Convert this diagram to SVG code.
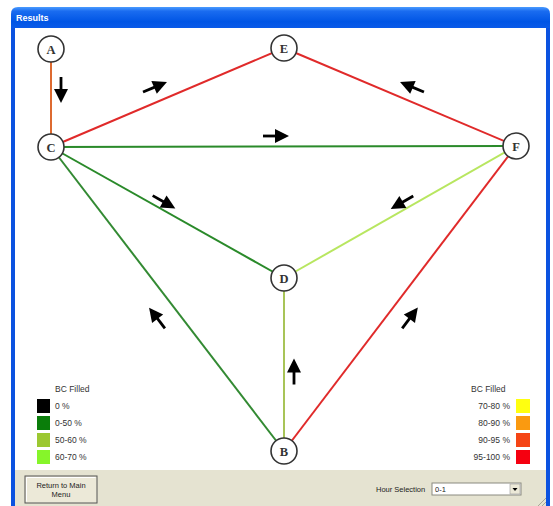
<svg xmlns="http://www.w3.org/2000/svg" width="553" height="506" viewBox="0 0 553 506">
  <defs>
    <linearGradient id="tbar" x1="0" y1="0" x2="0" y2="1">
      <stop offset="0" stop-color="#4a9bff"/>
      <stop offset="0.2" stop-color="#1a6cf0"/>
      <stop offset="0.7" stop-color="#0055e5"/>
      <stop offset="1" stop-color="#0a5ae8"/>
    </linearGradient>
    <g id="arr">
      <line x1="-13" y1="0" x2="1" y2="0" stroke="#000" stroke-width="2.8"/>
      <polygon points="13,0 -1,-7 -1,7" fill="#000"/>
    </g>
    <style>
      .edge { fill: none; stroke-width: 2; }
      .node circle { fill: #fff; stroke: #333; stroke-width: 1.6; }
      .node text { font-family: "Liberation Serif", serif; font-weight: bold; font-size: 12.5px; fill: #333; text-anchor: middle; }
      .lg { font-family: "Liberation Sans", Arial, sans-serif; font-size: 8.5px; fill: #333; }
      .ui { font-family: "Liberation Sans", Arial, sans-serif; font-size: 7.5px; fill: #222; }
    </style>
  </defs>

  <!-- window frame -->
  <rect x="0" y="0" width="553" height="506" fill="#fff"/>
  <path d="M11,28 V14 Q11,7 18,7 H543 Q550,7 550,14 V28 Z" fill="url(#tbar)"/>
  <text x="16" y="21" font-family="Liberation Sans, Arial, sans-serif" font-size="9" font-weight="bold" fill="#fff">Results</text>
  <rect x="11" y="28" width="4" height="478" fill="#0b52e0"/>
  <rect x="546" y="28" width="4" height="478" fill="#0b52e0"/>
  <rect x="15" y="28" width="531" height="442" fill="#fff"/>
  <rect x="15" y="470" width="531" height="36" fill="#e5e3d1"/>

  <!-- connectors -->
  <g id="connectors">
    <line class="edge" x1="51" y1="49" x2="51" y2="147" stroke="#dd6a30"/>
    <line class="edge" x1="51" y1="147" x2="284" y2="48" stroke="#e02a2a"/>
    <line class="edge" x1="284" y1="48" x2="516" y2="146" stroke="#e02a2a"/>
    <line class="edge" x1="51" y1="147" x2="516" y2="146" stroke="#2a8a2a"/>
    <line class="edge" x1="51" y1="147" x2="284" y2="278" stroke="#2a8a2a"/>
    <line class="edge" x1="516" y1="146" x2="284" y2="278" stroke="#b8e660"/>
    <line class="edge" x1="284" y1="278" x2="284" y2="451" stroke="#a8c458"/>
    <line class="edge" x1="51" y1="147" x2="284" y2="451" stroke="#338a33"/>
    <line class="edge" x1="516" y1="146" x2="284" y2="451" stroke="#e02a2a"/>

    <use href="#arr" transform="translate(61,90) rotate(90)"/>
    <use href="#arr" transform="translate(155,87) rotate(-23)"/>
    <use href="#arr" transform="translate(412,87) rotate(-157)"/>
    <use href="#arr" transform="translate(276,136) rotate(0)"/>
    <use href="#arr" transform="translate(164,202) rotate(29.5)"/>
    <use href="#arr" transform="translate(402,202.5) rotate(150)"/>
    <use href="#arr" transform="translate(294,371.5) rotate(-90)"/>
    <use href="#arr" transform="translate(157,318) rotate(-127.5)"/>
    <use href="#arr" transform="translate(410,318) rotate(-53)"/>
  </g>

  <!-- nodes -->
  <g id="node-A" class="node"><circle cx="51" cy="49" r="13"/><text x="51" y="53.5">A</text></g>
  <g id="node-E" class="node"><circle cx="284" cy="48" r="13"/><text x="284" y="52.5">E</text></g>
  <g id="node-C" class="node"><circle cx="51" cy="147" r="13"/><text x="51" y="151.5">C</text></g>
  <g id="node-F" class="node"><circle cx="516" cy="146" r="13"/><text x="516" y="150.5">F</text></g>
  <g id="node-D" class="node"><circle cx="284" cy="278" r="13"/><text x="284" y="282.5">D</text></g>
  <g id="node-B" class="node"><circle cx="284" cy="451" r="13"/><text x="284" y="455.5">B</text></g>

  <!-- legend left -->
  <g id="legend-left">
    <text class="lg" x="55" y="392">BC Filled</text>
    <rect x="37" y="399" width="13" height="14" fill="#000"/>
    <rect x="37" y="416" width="13" height="14" fill="#0a7d0a"/>
    <rect x="37" y="433" width="13" height="14" fill="#9cc832"/>
    <rect x="37" y="450" width="13" height="14" fill="#86f52a"/>
    <text class="lg" x="55" y="409">0 %</text>
    <text class="lg" x="55" y="426">0-50 %</text>
    <text class="lg" x="55" y="443">50-60 %</text>
    <text class="lg" x="55" y="460">60-70 %</text>
  </g>

  <!-- legend right -->
  <g id="legend-right">
    <text class="lg" x="471" y="392">BC Filled</text>
    <rect x="516" y="399" width="14" height="14" fill="#ffff10"/>
    <rect x="516" y="416" width="14" height="14" fill="#fa9a10"/>
    <rect x="516" y="433" width="14" height="14" fill="#f54515"/>
    <rect x="516" y="450" width="14" height="14" fill="#f50010"/>
    <text class="lg" x="510" y="409" text-anchor="end">70-80 %</text>
    <text class="lg" x="510" y="426" text-anchor="end">80-90 %</text>
    <text class="lg" x="510" y="443" text-anchor="end">90-95 %</text>
    <text class="lg" x="510" y="460" text-anchor="end">95-100 %</text>
  </g>

  <!-- bottom controls -->
  <g id="button-return">
    <rect x="25" y="476" width="72" height="27" fill="#ece9d8" stroke="#555" stroke-width="1"/>
    <path d="M26.5,501.5 V477.5 H95.5" fill="none" stroke="#fff" stroke-width="1"/>
    <text class="ui" x="61" y="488" text-anchor="middle">Return to Main</text>
    <text class="ui" x="61" y="497" text-anchor="middle">Menu</text>
  </g>
  <g id="hour-selection">
    <text class="ui" x="376" y="492">Hour Selection</text>
    <rect x="432" y="483" width="89" height="12" fill="#fff" stroke="#8a8a80" stroke-width="1"/>
    <text class="ui" x="435" y="491.5">0-1</text>
    <rect x="510" y="484" width="10" height="10" fill="#ece9d8" stroke="#999" stroke-width="0.6"/>
    <polygon points="512.5,488 517.5,488 515,491" fill="#000"/>
  </g>
  <g id="grip" stroke="#a8a698" stroke-width="1">
    <line x1="538" y1="506" x2="546" y2="498"/>
    <line x1="542" y1="506" x2="546" y2="502"/>
  </g>
</svg>
